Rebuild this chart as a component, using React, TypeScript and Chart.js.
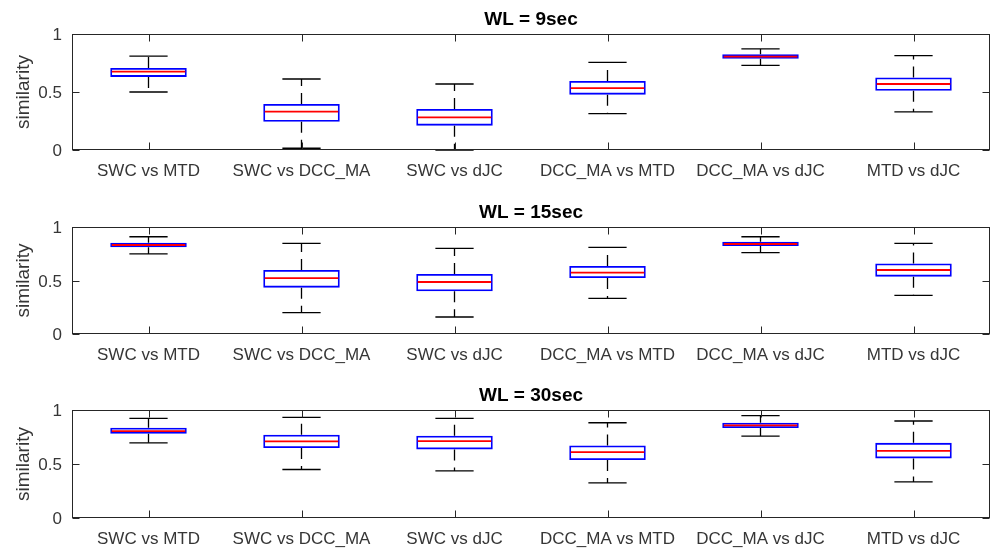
import React, { useEffect, useRef } from "react";
import { Chart, registerables } from "chart.js";

Chart.register(...registerables);

// Pairwise method comparisons shown along the x axis
const categories = [
  "SWC vs MTD",
  "SWC vs DCC_MA",
  "SWC vs dJC",
  "DCC_MA vs MTD",
  "DCC_MA vs dJC",
  "MTD vs dJC",
];

const yTicks = [0, 0.5, 1];
const yTickLabels = ["0", "0.5", "1"];

// WL = 9sec
const wl9Lower = [0.5, 0.015, 0.0, 0.313, 0.73, 0.328];
const wl9Q1 = [0.63, 0.244, 0.21, 0.477, 0.787, 0.511];
const wl9Median = [0.675, 0.33, 0.282, 0.534, 0.805, 0.569];
const wl9Q3 = [0.707, 0.397, 0.353, 0.595, 0.825, 0.626];
const wl9Upper = [0.81, 0.612, 0.569, 0.756, 0.871, 0.813];

// WL = 15sec
const wl15Lower = [0.748, 0.2, 0.159, 0.333, 0.76, 0.361];
const wl15Q1 = [0.81, 0.433, 0.399, 0.523, 0.822, 0.536];
const wl15Median = [0.832, 0.523, 0.486, 0.573, 0.841, 0.598];
const wl15Q3 = [0.853, 0.598, 0.561, 0.636, 0.863, 0.66];
const wl15Upper = [0.909, 0.847, 0.801, 0.81, 0.909, 0.847];

// WL = 30sec
const wl30Lower = [0.696, 0.449, 0.436, 0.325, 0.759, 0.334];
const wl30Q1 = [0.78, 0.647, 0.635, 0.536, 0.833, 0.552];
const wl30Median = [0.805, 0.709, 0.712, 0.61, 0.858, 0.622];
const wl30Q3 = [0.836, 0.771, 0.761, 0.672, 0.882, 0.696];
const wl30Upper = [0.923, 0.932, 0.923, 0.882, 0.947, 0.898];

type Stats = {
  lower: number[];
  q1: number[];
  median: number[];
  q3: number[];
  upper: number[];
};

type PanelProps = {
  title: string;
  stats: Stats;
  top: number;
  padTop: number;
  xAxisHeight: number;
};

const FONT = "'Liberation Sans', Arial, Helvetica, sans-serif";
const TEXT = "#363636";
const AXIS = "#262626";
const CANVAS_W = 992;
const CANVAS_H = 185;

function makeBoxPlugin(title: string, stats: Stats) {
  return {
    id: "boxDecor",
    afterDatasetsDraw(chart: any) {
      const { ctx, chartArea, scales } = chart;
      const xs = scales.x;
      const ys = scales.y;
      const step = xs.getPixelForValue(1) - xs.getPixelForValue(0);
      const boxHalf = step * 0.25;
      const capHalf = step * 0.125;

      ctx.save();
      categories.forEach((_, i) => {
        const cx = xs.getPixelForValue(i);
        const yLo = ys.getPixelForValue(stats.lower[i]);
        const yQ1 = ys.getPixelForValue(stats.q1[i]);
        const yMed = ys.getPixelForValue(stats.median[i]);
        const yQ3 = ys.getPixelForValue(stats.q3[i]);
        const yUp = ys.getPixelForValue(stats.upper[i]);

        // dashed whiskers from the box edges outwards
        ctx.strokeStyle = "#000";
        ctx.lineWidth = 1.3;
        ctx.setLineDash([11, 7]);
        ctx.beginPath();
        ctx.moveTo(cx, yQ3);
        ctx.lineTo(cx, yUp);
        ctx.moveTo(cx, yQ1);
        ctx.lineTo(cx, yLo);
        ctx.stroke();

        // whisker caps
        ctx.setLineDash([]);
        ctx.beginPath();
        ctx.moveTo(cx - capHalf, yUp);
        ctx.lineTo(cx + capHalf, yUp);
        ctx.moveTo(cx - capHalf, yLo);
        ctx.lineTo(cx + capHalf, yLo);
        ctx.stroke();

        // median
        ctx.strokeStyle = "#ff0000";
        ctx.lineWidth = 1.8;
        ctx.beginPath();
        ctx.moveTo(cx - boxHalf + 1.5, yMed);
        ctx.lineTo(cx + boxHalf - 1.5, yMed);
        ctx.stroke();
      });

      // axes frame
      const l = Math.round(chartArea.left) + 0.5;
      const r = Math.round(chartArea.right) - 0.5;
      const t = Math.round(chartArea.top) + 0.5;
      const b = Math.round(chartArea.bottom) - 0.5;
      ctx.strokeStyle = AXIS;
      ctx.lineWidth = 1;
      ctx.strokeRect(l, t, r - l, b - t);

      // inward tick marks on all four sides
      const tick = 7;
      ctx.beginPath();
      categories.forEach((_, i) => {
        const px = Math.round(xs.getPixelForValue(i)) + 0.5;
        ctx.moveTo(px, b);
        ctx.lineTo(px, b - tick);
        ctx.moveTo(px, t);
        ctx.lineTo(px, t + tick);
      });
      yTicks.forEach((v) => {
        const py = Math.round(ys.getPixelForValue(v)) + 0.5;
        ctx.moveTo(l, py);
        ctx.lineTo(l + tick, py);
        ctx.moveTo(r, py);
        ctx.lineTo(r - tick, py);
      });
      ctx.stroke();

      // tick labels
      ctx.fillStyle = TEXT;
      ctx.font = `17px ${FONT}`;
      ctx.textAlign = "center";
      ctx.textBaseline = "alphabetic";
      categories.forEach((c, i) => {
        ctx.fillText(c, xs.getPixelForValue(i), chartArea.bottom + 26);
      });
      ctx.textAlign = "right";
      ctx.textBaseline = "middle";
      yTicks.forEach((v, i) => {
        ctx.fillText(yTickLabels[i], chartArea.left - 10, ys.getPixelForValue(v) + 1.5);
      });

      // panel title
      ctx.fillStyle = "#000";
      ctx.font = `bold 19px ${FONT}`;
      ctx.textAlign = "center";
      ctx.textBaseline = "alphabetic";
      ctx.fillText(title, (chartArea.left + chartArea.right) / 2, chartArea.top - 9);

      // y axis label
      ctx.fillStyle = TEXT;
      ctx.font = `19px ${FONT}`;
      ctx.translate(28.5, (chartArea.top + chartArea.bottom) / 2);
      ctx.rotate(-Math.PI / 2);
      ctx.fillText("similarity", 0, 0);
      ctx.restore();
    },
  };
}

function BoxPanel({ title, stats, top, padTop, xAxisHeight }: PanelProps) {
  const ref = useRef<HTMLCanvasElement | null>(null);

  useEffect(() => {
    if (!ref.current) return;
    const chart = new Chart(ref.current, {
      type: "bar",
      data: {
        labels: categories,
        datasets: [
          {
            data: stats.q1.map((v, i) => [v, stats.q3[i]]) as any,
            backgroundColor: "rgba(0,0,0,0)",
            borderColor: "#0000ff",
            borderWidth: 1.8,
            borderSkipped: false,
            barPercentage: 0.5,
            categoryPercentage: 1,
          },
        ],
      },
      options: {
        responsive: false,
        animation: false,
        devicePixelRatio: 1,
        layout: { padding: { top: padTop, right: 2, left: 0, bottom: 0 } },
        plugins: {
          legend: { display: false },
          tooltip: { enabled: false },
          title: { display: false },
        },
        scales: {
          x: {
            grid: { display: false },
            border: { display: false },
            ticks: { display: false },
            afterFit: (s: any) => {
              s.height = xAxisHeight;
            },
          },
          y: {
            min: 0,
            max: 1,
            grid: { display: false },
            border: { display: false },
            afterBuildTicks: (s: any) => {
              s.ticks = yTicks.map((v) => ({ value: v }));
            },
            ticks: { display: false },
            afterFit: (s: any) => {
              s.width = 72;
            },
          },
        },
      },
      plugins: [makeBoxPlugin(title, stats)],
    });
    return () => chart.destroy();
  }, [title, stats, padTop, xAxisHeight]);

  return (
    <canvas
      ref={ref}
      width={CANVAS_W}
      height={CANVAS_H}
      style={{
        position: "absolute",
        left: 0,
        top,
        width: CANVAS_W,
        height: CANVAS_H,
      }}
    />
  );
}

const panels = [
  {
    title: "WL = 9sec",
    stats: { lower: wl9Lower, q1: wl9Q1, median: wl9Median, q3: wl9Q3, upper: wl9Upper },
    top: 0,
    padTop: 34,
    xAxisHeight: 35,
  },
  {
    title: "WL = 15sec",
    stats: { lower: wl15Lower, q1: wl15Q1, median: wl15Median, q3: wl15Q3, upper: wl15Upper },
    top: 185,
    padTop: 42,
    xAxisHeight: 36,
  },
  {
    title: "WL = 30sec",
    stats: { lower: wl30Lower, q1: wl30Q1, median: wl30Median, q3: wl30Q3, upper: wl30Upper },
    top: 370,
    padTop: 40,
    xAxisHeight: 37,
  },
];

export default function App() {
  return (
    <div
      style={{
        position: "fixed",
        left: 0,
        top: 0,
        width: 992,
        height: 555,
        background: "#fff",
        overflow: "hidden",
      }}
    >
      {panels.map((p) => (
        <BoxPanel key={p.title} {...p} />
      ))}
    </div>
  );
}
